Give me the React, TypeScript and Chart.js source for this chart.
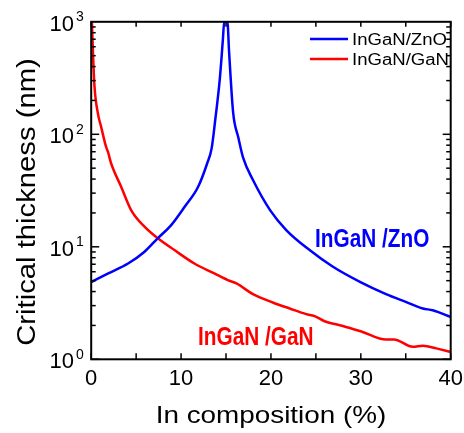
import React, { useEffect, useRef } from 'react';
import { Chart, registerables } from 'chart.js';

Chart.register(...registerables);

// InGaN/ZnO critical thickness (nm) vs In composition (%)
const znoX = [0, 1.9, 4.1, 5.9, 7.4, 8.9, 10.4, 11.9, 12.9, 13.4, 13.8, 14.3, 14.65, 14.8, 15.15, 15.35, 15.8, 16.35, 16.9, 18, 19.9, 21.7, 24.3, 26.9, 29.9, 32.8, 35, 36.9, 38, 40];
const znoY = [4.85, 5.8, 7.1, 9.0, 11.9, 15.6, 22.7, 34.2, 55, 75, 134, 304, 690, 1000, 1000, 526, 154, 95, 62, 39.2, 21.2, 14.1, 9.35, 6.64, 4.88, 3.8, 3.24, 2.83, 2.73, 2.38];

// InGaN/GaN critical thickness (nm) vs In composition (%)
const ganX = [0.08, 0.2, 0.37, 0.74, 1.1, 1.65, 1.86, 2.22, 3.33, 4.44, 5.93, 7.41, 9.26, 11.48, 13.7, 15.2, 16.16, 18, 20.2, 22.08, 23.93, 24.86, 25.97, 28, 30.2, 32.8, 33.7, 35.8, 36.9, 38.4, 40];
const ganY = [1000, 526, 265, 154, 117, 77.6, 70, 55, 34.2, 21.2, 15.1, 11.9, 9.35, 7.1, 5.8, 5.06, 4.72, 3.8, 3.2, 2.83, 2.52, 2.42, 2.18, 1.98, 1.75, 1.5, 1.5, 1.29, 1.32, 1.25, 1.16];

const xTickLabels = [0, 10, 20, 30, 40];
const yExponents = [0, 1, 2, 3];
const seriesNames = ['InGaN/ZnO', 'InGaN/GaN'];
const annotationLabels = ['InGaN /ZnO', 'InGaN /GaN'];
const xTitle = 'In composition (%)';
const yTitle = 'Critical thickness (nm)';

const FONT = '"Liberation Sans", Arial, Helvetica, sans-serif';
const BLUE = '#0000ff';
const RED = '#ff0000';

function drawText(ctx: CanvasRenderingContext2D, text: string, x: number, y: number, font: string, sx: number, align: string, color: string) {
  ctx.save();
  ctx.font = font;
  ctx.fillStyle = color;
  const w = ctx.measureText(text).width * sx;
  let left = x;
  if (align === 'center') left = x - w / 2;
  else if (align === 'right') left = x - w;
  ctx.translate(left, y);
  ctx.scale(sx, 1);
  ctx.textAlign = 'left';
  ctx.textBaseline = 'alphabetic';
  ctx.fillText(text, 0, 0);
  ctx.restore();
}

const decorPlugin = {
  id: 'decor',
  afterDraw(chart: any) {
    const { ctx, chartArea: ca, scales } = chart;
    const xs = scales.x;
    const ys = scales.y;
    ctx.save();
    ctx.strokeStyle = '#000';
    ctx.lineWidth = 1.5;
    const line = (x1: number, y1: number, x2: number, y2: number) => {
      ctx.beginPath();
      ctx.moveTo(x1, y1);
      ctx.lineTo(x2, y2);
      ctx.stroke();
    };
    for (let v = 0; v <= 40; v += 5) {
      const px = xs.getPixelForValue(v);
      line(px, ca.bottom, px, ca.bottom - 6);
      line(px, ca.top, px, ca.top + 5);
    }
    for (let e = 0; e < 3; e++) {
      for (let m = 1; m <= 9; m++) {
        const py = ys.getPixelForValue(m * Math.pow(10, e));
        const len = m === 1 ? 8 : 4.5;
        line(ca.left, py, ca.left + len, py);
        line(ca.right, py, ca.right - len, py);
      }
    }
    ctx.lineWidth = 2;
    ctx.strokeRect(ca.left, ca.top, ca.right - ca.left, ca.bottom - ca.top);

    // x tick labels
    xTickLabels.forEach((v) => {
      drawText(ctx, String(v), xs.getPixelForValue(v), 385, `22px ${FONT}`, 1, 'center', '#000');
    });
    // y tick labels 10^n
    yExponents.forEach((e) => {
      const py = ys.getPixelForValue(Math.pow(10, e));
      drawText(ctx, '10', 74, py + 9, `22px ${FONT}`, 1, 'right', '#000');
      drawText(ctx, String(e), 76, py - 0.5, `14px ${FONT}`, 1, 'left', '#000');
    });
    // axis titles
    drawText(ctx, xTitle, 271, 423, `24px ${FONT}`, 1.16, 'center', '#000');
    ctx.save();
    ctx.translate(35, 202);
    ctx.rotate(-Math.PI / 2);
    drawText(ctx, yTitle, 0, 0, `25px ${FONT}`, 1.17, 'center', '#000');
    ctx.restore();

    // legend
    const legendColors = [BLUE, RED];
    const legendY = [39, 59];
    seriesNames.forEach((name, i) => {
      ctx.strokeStyle = legendColors[i];
      ctx.lineWidth = 2.5;
      line(310, legendY[i], 348, legendY[i]);
      drawText(ctx, name, 352, legendY[i] + 6, `16px ${FONT}`, 1.16, 'left', '#000');
    });

    // in-plot annotations
    drawText(ctx, annotationLabels[0], 315, 247, `bold 26px ${FONT}`, 0.8, 'left', BLUE);
    drawText(ctx, annotationLabels[1], 198, 345, `bold 26px ${FONT}`, 0.8, 'left', RED);
    ctx.restore();
  },
};

export default function App() {
  const canvasRef = useRef<HTMLCanvasElement | null>(null);
  useEffect(() => {
    document.body.style.margin = '0';
    const canvas = canvasRef.current;
    if (!canvas) return;
    const chart = new Chart(canvas, {
      type: 'line',
      data: {
        datasets: [
          {
            label: seriesNames[0],
            data: znoX.map((v, i) => ({ x: v, y: znoY[i] })),
            borderColor: BLUE,
            borderWidth: 2.5,
            pointRadius: 0,
            cubicInterpolationMode: 'monotone',
            fill: false,
          },
          {
            label: seriesNames[1],
            data: ganX.map((v, i) => ({ x: v, y: ganY[i] })),
            borderColor: RED,
            borderWidth: 2.5,
            pointRadius: 0,
            cubicInterpolationMode: 'monotone',
            fill: false,
          },
        ],
      },
      options: {
        responsive: false,
        animation: false,
        devicePixelRatio: 1,
        layout: { padding: { left: 0, top: 21.8, right: 13.3, bottom: 0 } },
        plugins: { legend: { display: false }, tooltip: { enabled: false } },
        scales: {
          x: {
            type: 'linear',
            min: 0,
            max: 40,
            grid: { display: false, drawTicks: false },
            border: { display: false },
            ticks: { display: false },
            afterFit: (s: any) => { s.height = 73.7; },
          },
          y: {
            type: 'logarithmic',
            min: 1,
            max: 1000,
            grid: { display: false, drawTicks: false },
            border: { display: false },
            ticks: { display: false },
            afterFit: (s: any) => { s.width = 91.2; },
          },
        },
      } as any,
      plugins: [decorPlugin],
    });
    return () => chart.destroy();
  }, []);
  return (
    <div style={{ width: 464, height: 433, position: 'relative' }}>
      <canvas ref={canvasRef} width={464} height={433} />
    </div>
  );
}
